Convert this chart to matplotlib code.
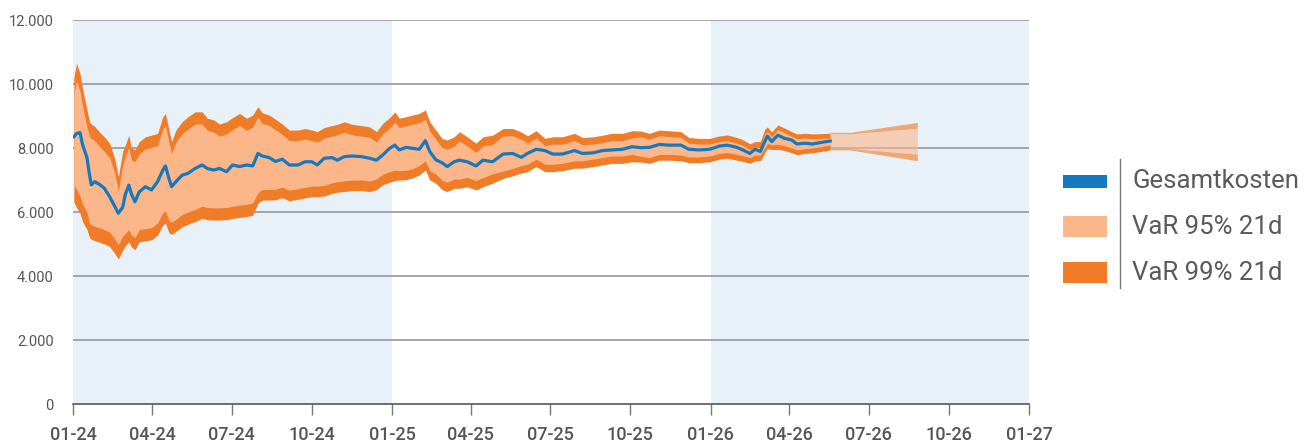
import matplotlib.pyplot as plt
import matplotlib.dates as mdates
from matplotlib.patches import Rectangle
from matplotlib.lines import Line2D
from matplotlib.ticker import FuncFormatter
import pandas as pd

plt.rcParams['font.family'] = ['Roboto', 'DejaVu Sans']

dates = ['2024-01-02', '2024-01-05', '2024-01-09', '2024-01-12', '2024-01-17', '2024-01-20',
         '2024-01-22', '2024-01-26', '2024-02-01', '2024-02-06', '2024-02-12', '2024-02-18',
         '2024-02-22', '2024-02-27', '2024-03-01', '2024-03-05', '2024-03-08', '2024-03-12',
         '2024-03-17', '2024-03-24', '2024-03-31', '2024-04-07', '2024-04-13', '2024-04-16',
         '2024-04-20', '2024-04-23', '2024-04-28', '2024-05-05', '2024-05-12', '2024-05-20',
         '2024-05-28', '2024-06-03', '2024-06-10', '2024-06-17', '2024-06-25', '2024-07-02',
         '2024-07-10', '2024-07-18', '2024-07-25', '2024-07-31', '2024-08-05', '2024-08-13',
         '2024-08-20', '2024-08-28', '2024-09-05', '2024-09-15', '2024-09-23', '2024-10-01',
         '2024-10-07', '2024-10-15', '2024-10-24', '2024-10-30', '2024-11-07', '2024-11-16',
         '2024-11-27', '2024-12-06', '2024-12-14', '2024-12-21', '2024-12-29', '2025-01-04',
         '2025-01-09', '2025-01-17', '2025-01-24', '2025-02-01', '2025-02-08', '2025-02-13',
         '2025-02-20', '2025-02-27', '2025-03-05', '2025-03-13', '2025-03-19', '2025-03-28',
         '2025-04-07', '2025-04-15', '2025-04-26', '2025-05-08', '2025-05-19', '2025-05-29',
         '2025-06-05', '2025-06-15', '2025-06-25', '2025-07-04', '2025-07-15', '2025-07-29',
         '2025-08-07', '2025-08-19', '2025-08-30', '2025-09-10', '2025-09-22', '2025-10-03',
         '2025-10-13', '2025-10-23', '2025-11-03', '2025-11-14', '2025-11-28', '2025-12-07',
         '2025-12-19', '2025-12-31', '2026-01-11', '2026-01-20', '2026-01-31', '2026-02-07',
         '2026-02-15', '2026-02-21', '2026-02-27', '2026-03-04', '2026-03-07', '2026-03-12',
         '2026-03-19', '2026-03-27', '2026-04-04', '2026-04-10', '2026-04-19', '2026-04-28',
         '2026-05-09', '2026-05-18']

gesamt = [8350, 8450, 8480, 8100, 7700, 7150, 6850, 6950, 6850, 6740, 6480, 6170,
          5960, 6150, 6550, 6840, 6560, 6320, 6630, 6790, 6690, 6950, 7310, 7440,
          7050, 6790, 6950, 7150, 7210, 7360, 7470, 7360, 7310, 7360, 7260, 7470,
          7420, 7470, 7440, 7830, 7750, 7700, 7580, 7650, 7470, 7470, 7570, 7570,
          7470, 7680, 7700, 7620, 7730, 7750, 7730, 7680, 7620, 7780, 7990, 8090,
          7940, 8020, 7990, 7960, 8230, 7890, 7630, 7540, 7420, 7570, 7620, 7570,
          7440, 7620, 7570, 7810, 7830, 7710, 7830, 7960, 7920, 7810, 7810, 7920,
          7830, 7850, 7920, 7940, 7960, 8040, 8010, 8020, 8110, 8090, 8090, 7960,
          7940, 7960, 8060, 8090, 8020, 7940, 7830, 7960, 7890, 8200, 8375, 8200,
          8400, 8300, 8250, 8125, 8150, 8125, 8180, 8220]

var99_hi = [10200, 10650, 10330, 9850, 9200, 8820, 8750, 8670, 8480, 8350, 8150, 7650,
            7100, 7900, 8100, 8400, 8000, 7950, 8200, 8350, 8400, 8460, 8980, 9080,
            8560, 8200, 8560, 8820, 8980, 9130, 9130, 8930, 8880, 8750, 8820, 8950,
            9080, 8930, 9030, 9290, 9100, 9030, 8900, 8750, 8560, 8560, 8610, 8560,
            8510, 8640, 8700, 8740, 8820, 8740, 8700, 8660, 8510, 8770, 8950, 9130,
            8930, 8980, 9030, 9080, 9190, 8820, 8560, 8300, 8250, 8350, 8510, 8350,
            8150, 8350, 8400, 8610, 8610, 8500, 8380, 8540, 8300, 8350, 8350, 8460,
            8330, 8350, 8400, 8460, 8460, 8540, 8530, 8460, 8560, 8540, 8510, 8330,
            8300, 8300, 8375, 8410, 8330, 8260, 8130, 8200, 8200, 8580, 8660, 8500,
            8720, 8620, 8510, 8440, 8460, 8440, 8450, 8460]

var95_hi = [9650, 10100, 9780, 9300, 8650, 8370, 8300, 8220, 8030, 7900, 7700, 7200,
            6650, 7450, 7720, 8020, 7620, 7570, 7820, 7970, 8020, 8080, 8600, 8700,
            8180, 7820, 8180, 8440, 8600, 8750, 8750, 8550, 8500, 8370, 8440, 8570,
            8700, 8550, 8650, 8960, 8770, 8700, 8570, 8420, 8230, 8230, 8280, 8230,
            8180, 8310, 8370, 8410, 8490, 8410, 8370, 8330, 8180, 8440, 8620, 8800,
            8640, 8690, 8740, 8790, 8900, 8530, 8270, 8010, 7960, 8060, 8220, 8060,
            7860, 8060, 8110, 8380, 8380, 8270, 8150, 8310, 8070, 8120, 8120, 8230,
            8100, 8120, 8170, 8230, 8230, 8310, 8350, 8280, 8380, 8360, 8330, 8150,
            8120, 8120, 8200, 8230, 8150, 8080, 7950, 8020, 8020, 8430, 8510, 8350,
            8570, 8470, 8360, 8290, 8310, 8290, 8300, 8310]

var95_lo = [6850, 6700, 6510, 6250, 6000, 5650, 5600, 5550, 5500, 5450, 5370, 5150,
            4980, 5250, 5330, 5450, 5280, 5200, 5450, 5480, 5510, 5660, 5980, 6030,
            5730, 5680, 5770, 5920, 6000, 6080, 6180, 6140, 6130, 6130, 6140, 6180,
            6210, 6240, 6280, 6600, 6700, 6705, 6710, 6780, 6680, 6730, 6770, 6810,
            6810, 6830, 6910, 6950, 6970, 7000, 7000, 6970, 7030, 7180, 7260, 7310,
            7290, 7300, 7350, 7450, 7600, 7290, 7190, 6990, 6930, 7030, 7030, 7080,
            6980, 7080, 7190, 7280, 7360, 7450, 7490, 7650, 7490, 7490, 7520, 7600,
            7600, 7650, 7700, 7750, 7750, 7800, 7740, 7700, 7800, 7800, 7780, 7720,
            7720, 7750, 7830, 7860, 7800, 7760, 7700, 7780, 7780, 8000, 8140, 8100,
            8110, 8070, 8000, 7940, 7980, 8000, 8050, 8090]

var99_lo = [6300, 6150, 5960, 5700, 5450, 5200, 5150, 5100, 5050, 5000, 4920, 4700,
            4530, 4800, 4950, 5070, 4900, 4820, 5070, 5100, 5130, 5280, 5600, 5650,
            5350, 5300, 5390, 5540, 5620, 5700, 5800, 5760, 5750, 5750, 5760, 5800,
            5830, 5860, 5900, 6270, 6370, 6375, 6380, 6450, 6350, 6400, 6440, 6480,
            6480, 6500, 6580, 6620, 6640, 6670, 6670, 6640, 6700, 6850, 6930, 6980,
            7000, 7010, 7060, 7160, 7310, 7000, 6900, 6700, 6640, 6740, 6740, 6790,
            6690, 6790, 6900, 7050, 7130, 7220, 7260, 7420, 7260, 7260, 7290, 7370,
            7370, 7420, 7470, 7520, 7520, 7570, 7560, 7520, 7620, 7620, 7600, 7540,
            7540, 7570, 7650, 7680, 7620, 7580, 7520, 7600, 7600, 7850, 7990, 7950,
            7960, 7920, 7850, 7790, 7830, 7850, 7900, 7940]

# forecast cone
cone_dates = ['2026-05-18', '2026-06-10', '2026-08-26']
cone99_hi = [8490, 8490, 8800]
cone95_hi = [8440, 8440, 8615]
cone95_lo = [7990, 7990, 7810]
cone99_lo = [7940, 7940, 7600]

shaded_years = [('2024-01-01', '2025-01-01'), ('2026-01-01', '2027-01-01')]
yticks = [0, 2000, 4000, 6000, 8000, 10000, 12000]

blue = '#1479bf'
light = '#fbb68a'
dark = '#f07c27'
bg = '#e8f1f8'

x = pd.to_datetime(dates)
xc = pd.to_datetime(cone_dates)

fig = plt.figure(figsize=(13.06, 4.45), dpi=100)
ax = fig.add_axes([73 / 1306, 1 - 404 / 445, 956 / 1306, 384 / 445])

for a, b in shaded_years:
    ax.axvspan(pd.Timestamp(a), pd.Timestamp(b), color=bg, lw=0, zorder=0)

for v in yticks[1:]:
    ax.axhline(v, color='#9c9fa2', lw=1.3, zorder=1)

ax.fill_between(x, var99_lo, var99_hi, color=dark, lw=0, zorder=2)
ax.fill_between(x, var95_lo, var95_hi, color=light, lw=0, zorder=3)
ax.plot(x, gesamt, color=blue, lw=2.3, zorder=4)

# cone
ax.fill_between(xc, cone95_hi, cone99_hi, color=dark, alpha=0.62, lw=0, zorder=3)
ax.fill_between(xc, cone99_lo, cone95_lo, color=dark, alpha=0.62, lw=0, zorder=3)
ax.fill_between(xc, cone95_lo, cone95_hi, color=light, alpha=0.6, lw=0, zorder=3)

ax.set_xlim(pd.Timestamp('2024-01-01'), pd.Timestamp('2027-01-01'))
ax.set_ylim(0, 12000)
ax.set_yticks(yticks)
ax.yaxis.set_major_formatter(FuncFormatter(lambda v, p: f'{int(v):,}'.replace(',', '.')))
ax.xaxis.set_major_locator(mdates.MonthLocator(bymonth=[1, 4, 7, 10]))
ax.xaxis.set_major_formatter(mdates.DateFormatter('%m-%y'))

for s in ['top', 'right', 'left']:
    ax.spines[s].set_visible(False)
ax.spines['bottom'].set_color('#555555')
ax.spines['bottom'].set_linewidth(1.2)
ax.spines['bottom'].set_zorder(5)

ax.tick_params(axis='y', length=0, pad=14, labelsize=10.5, labelcolor='#555555')
ax.tick_params(axis='x', length=8, width=1, color='#777777', pad=8,
               labelsize=13, labelcolor='#555555')
for lab in ax.get_xticklabels():
    lab.set_fontweight('medium')

# legend
fig.add_artist(Line2D([1120 / 1306, 1120 / 1306], [1 - 159 / 445, 1 - 288 / 445],
                      color='#777777', lw=1))
rows = [('Gesamtkosten', blue, 175, 188), ('VaR 95% 21d', light, 216, 237),
        ('VaR 99% 21d', dark, 262, 283)]
for label, col, top, bot in rows:
    fig.add_artist(Rectangle((1063 / 1306, 1 - bot / 445), 44 / 1306, (bot - top) / 445,
                             color=col, lw=0))
    fig.text(1132 / 1306, 1 - (top + bot) / 2 / 445, label, fontsize=18.5,
             color='#5a5a5a', va='center', ha='left')

fig.savefig('out.png', dpi=100)
